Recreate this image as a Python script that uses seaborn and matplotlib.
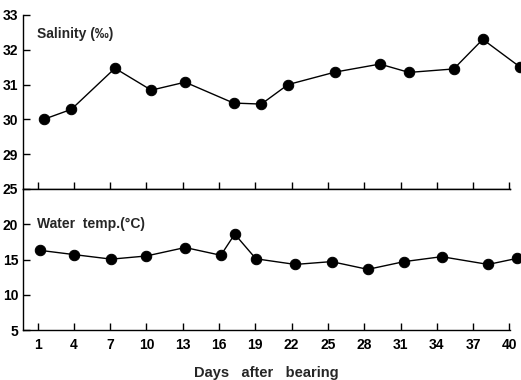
import pandas as pd
import seaborn as sns
import matplotlib.pyplot as plt

# salinity readings (top panel)
sal_days = [1.5, 3.8, 7.4, 10.4, 13.2, 17.2, 19.5, 21.7, 25.6, 29.3, 31.7, 35.4, 37.8, 40.9]
salinity = [30.0, 30.29, 31.47, 30.84, 31.07, 30.47, 30.44, 31.0, 31.36, 31.59, 31.35, 31.45, 32.3, 31.5]

# water temperature readings (bottom panel)
temp_days = [1.2, 4.0, 7.1, 10.0, 13.2, 16.15, 17.3, 19.05, 22.3, 25.3, 28.3, 31.3, 34.4, 38.25, 40.6]
water_temp = [16.3, 15.7, 15.05, 15.5, 16.7, 15.6, 18.6, 15.1, 14.3, 14.7, 13.6, 14.7, 15.4, 14.3, 15.15]

day_ticks = [1, 4, 7, 10, 13, 16, 19, 22, 25, 28, 31, 34, 37, 40]
sal_ticks = [29, 30, 31, 32, 33]
temp_ticks = [5, 10, 15, 20, 25]

sal_df = pd.DataFrame({'day': sal_days, 'value': salinity})
temp_df = pd.DataFrame({'day': temp_days, 'value': water_temp})

sns.set_style('ticks')
plt.rcParams['font.family'] = ['Liberation Sans', 'DejaVu Sans']

fig = plt.figure(figsize=(5.21, 3.8), dpi=100)
left, right = 23 / 521, 510 / 521
top, mid, bottom = 1 - 15 / 380, 1 - 189 / 380, 1 - 330 / 380
ax1 = fig.add_axes([left, mid, right - left, top - mid])
ax2 = fig.add_axes([left, bottom, right - left, mid - bottom], sharex=ax1)

for ax, df in [(ax1, sal_df), (ax2, temp_df)]:
    sns.lineplot(data=df, x='day', y='value', ax=ax, color='black', linewidth=1.0,
                 marker='o', markersize=7.5, markeredgecolor='black')
    for ln in ax.lines:
        ln.set_clip_on(False)
    ax.set_ylabel('')
    ax.set_xlabel('')
    ax.spines['right'].set_visible(False)
    for sp in ax.spines.values():
        sp.set_linewidth(1.0)
        sp.set_color('black')
    ax.tick_params(direction='in', length=5, width=1.0, colors='black', labelsize=10)

ax1.set_xlim(-0.2, 40.05)
ax1.set_ylim(28, 33)
ax1.set_yticks(sal_ticks)
ax1.set_yticklabels([str(t) for t in sal_ticks], fontweight='bold')
ax1.spines['top'].set_visible(False)
ax1.tick_params(axis='x', labelbottom=False)
ax1.text(0.029, 0.89, 'Salinity (‰)', transform=ax1.transAxes, fontsize=10,
         fontweight='bold', va='center', ha='left')

ax2.set_ylim(5, 25)
ax2.set_yticks(temp_ticks)
ax2.set_yticklabels([str(t) for t in temp_ticks], fontweight='bold')
ax2.set_xticks(day_ticks)
ax2.set_xticklabels([str(d) for d in day_ticks], fontweight='bold')
ax2.tick_params(axis='x', pad=6)
ax2.text(0.029, 0.752, 'Water  temp.(°C)', transform=ax2.transAxes, fontsize=10,
         fontweight='bold', va='center', ha='left')
ax2.set_xlabel('Days   after   bearing', fontsize=10.5,
               fontweight='bold', labelpad=10)

fig.savefig('out.png', dpi=100)
